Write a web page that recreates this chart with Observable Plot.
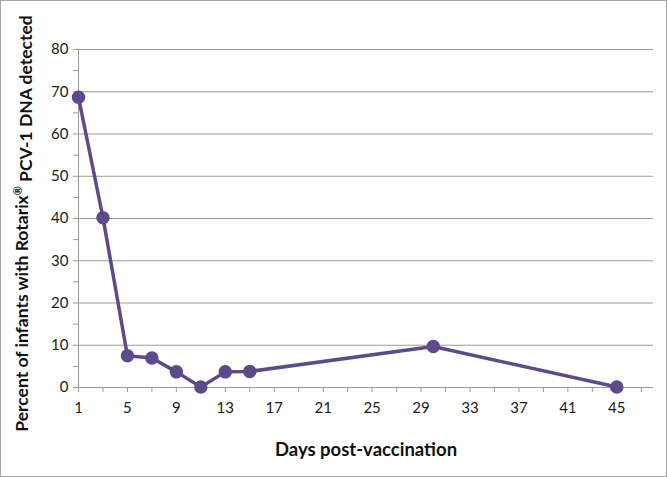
<!DOCTYPE html>
<html>
<head>
<meta charset="utf-8">
<script src="https://cdn.jsdelivr.net/npm/d3@7"></script>
<script src="https://cdn.jsdelivr.net/npm/@observablehq/plot@0.6"></script>
<style>
  html, body { margin: 0; padding: 0; background: #fff; }
  #wrap { position: relative; width: 667px; height: 477px; }
  #border { position: absolute; left: 0; top: 0; width: 667px; height: 477px; box-sizing: border-box; border: 1px solid #a6a6a6; pointer-events: none; }
</style>
</head>
<body>
<div id="wrap"><div id="border"></div></div>
<script>
const days = [1, 3, 5, 7, 9, 11, 13, 15, 30, 45];
const percent = [68.7, 40.2, 7.5, 7.0, 3.7, 0.1, 3.7, 3.8, 9.7, 0.1];
const xTicks = [1,3,5,7,9,11,13,15,17,19,21,23,25,27,29,31,33,35,37,39,41,43,45,47];
const xLabels = [1,5,9,13,17,21,25,29,33,37,41,45];
const yTicks = [0,5,10,15,20,25,30,35,40,45,50,55,60,65,70,75,80];
const yLabels = [0,10,20,30,40,50,60,70,80];
const xTitle = "Days post-vaccination";
const yTitle = "Percent of infants with Rotarix\u00AE PCV-1 DNA detected";

const data = days.map((d, i) => ({day: d, pct: percent[i]}));
const purple = "#5e4a8b";

const chart = Plot.plot({
  width: 667,
  height: 477,
  marginLeft: 78,
  marginRight: 14,
  marginTop: 49,
  marginBottom: 90,
  style: {fontFamily: "Lato, 'Open Sans', sans-serif", fontSize: "15px", color: "#1a1a1a", background: "transparent"},
  x: {domain: [1, 48]},
  y: {domain: [0, 80]},
  marks: [
    Plot.gridY(yLabels.filter(v => v > 0), {stroke: "#9a9a9a", strokeOpacity: 1, strokeWidth: 1}),
    Plot.ruleX([1], {stroke: "#9a9a9a", strokeWidth: 1}),
    Plot.ruleY([0], {stroke: "#9a9a9a", strokeWidth: 1}),
    Plot.axisY({ticks: yTicks, tickSize: 5, tickPadding: 5, stroke: "#9a9a9a",
      tickFormat: d => yLabels.includes(d) ? String(d) : "", label: null, fontSize: 15}),
    Plot.axisX({ticks: xTicks, tickSize: 5, tickPadding: 10, stroke: "#9a9a9a",
      tickFormat: d => xLabels.includes(d) ? String(d) : "", label: null, fontSize: 15}),
    Plot.line(data, {x: "day", y: "pct", stroke: purple, strokeWidth: 3.5}),
    Plot.dot(data, {x: "day", y: "pct", r: 6, fill: purple, stroke: purple}),
    Plot.text([xTitle], {frameAnchor: "bottom", dy: 68, fontWeight: "bold", fontSize: 18.5, fill: "#111"}),
    Plot.text([yTitle], {frameAnchor: "left", textAnchor: "middle", dx: -56, dy: 5, rotate: -90, fontWeight: "bold", fontSize: 17.5, fill: "#111"})
  ]
});
// render the ® as a superscript, as in the reference
d3.select(chart).selectAll("text").each(function() {
  const t = this.textContent;
  if (t.includes("\u00AE") && t.length > 10) {
    const parts = t.split("\u00AE");
    const sel = d3.select(this);
    sel.text(null);
    sel.append("tspan").text(parts[0]);
    sel.append("tspan").attr("font-size", "11px").attr("dy", "-0.55em").text("\u00AE");
    sel.append("tspan").attr("dy", "0.55em").text(parts[1]);
  }
});
document.getElementById("wrap").prepend(chart);
</script>
</body>
</html>
